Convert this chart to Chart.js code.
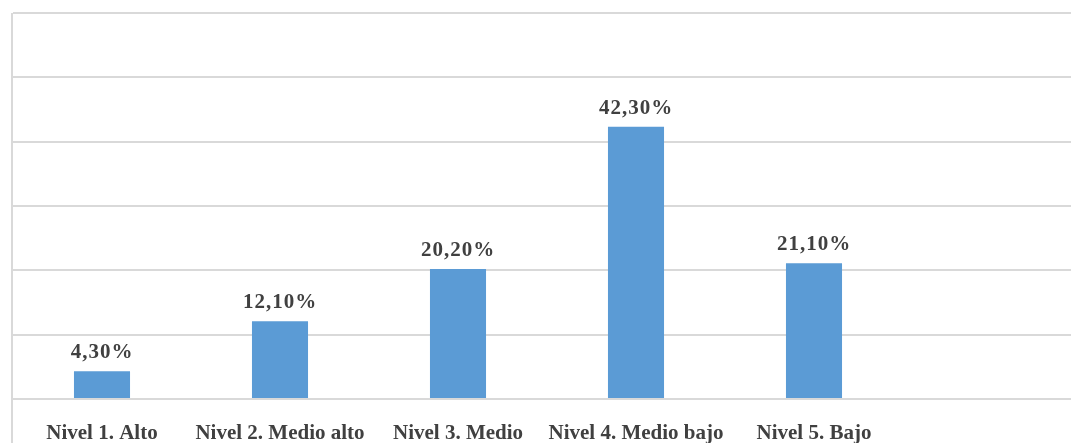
<!DOCTYPE html>
<html>
<head>
<meta charset="utf-8">
<script src="https://cdn.jsdelivr.net/npm/chart.js@4.4.0/dist/chart.umd.min.js"></script>
<style>
  html, body { margin: 0; padding: 0; background: #fff; overflow: hidden; width: 1071px; height: 443px; }
  #frame { position: absolute; left: 11px; top: 13px; width: 2px; height: 430px; background: #d9d9d9; }
  #wrap { position: absolute; left: 13px; top: 0; width: 1068px; height: 443px; }
</style>
</head>
<body>
<div id="frame"></div>
<div id="wrap"><canvas id="nivelChart"></canvas></div>
<script>
// categories (the original chart keeps an empty sixth slot)
var categories = ['Nivel 1. Alto', 'Nivel 2. Medio alto', 'Nivel 3. Medio', 'Nivel 4. Medio bajo', 'Nivel 5. Bajo', ''];
var percentages = [4.3, 12.1, 20.2, 42.3, 21.1, null];
var yTicks = [0, 10, 20, 30, 40, 50, 60];

var textColor = '#404040';
var serif = "'Liberation Serif', 'Times New Roman', serif";

// draws the "42,30%" labels above each bar
var valueLabels = {
    id: 'valueLabels',
    afterDatasetsDraw: function(chart) {
        var ctx = chart.ctx;
        var meta = chart.getDatasetMeta(0);
        ctx.save();
        ctx.font = 'bold 21px ' + serif;
        ctx.fillStyle = textColor;
        ctx.textAlign = 'center';
        ctx.textBaseline = 'alphabetic';
        if ('letterSpacing' in ctx) ctx.letterSpacing = '1px';
        meta.data.forEach(function(bar, i) {
            var v = percentages[i];
            if (v === null) return;
            var txt = v.toFixed(2).replace('.', ',') + '%';
            ctx.fillText(txt, bar.x, bar.y - 13);
        });
        ctx.restore();
    }
};

document.addEventListener('DOMContentLoaded', function() {
    var ctx = document.getElementById('nivelChart').getContext('2d');
    new Chart(ctx, {
        type: 'bar',
        data: {
            labels: categories,
            datasets: [{
                data: percentages,
                backgroundColor: '#5B9BD5',
                barPercentage: 0.315,
                categoryPercentage: 1
            }]
        },
        options: {
            responsive: true,
            maintainAspectRatio: false,
            animation: false,
            layout: { padding: { top: 13, left: 0, right: 0, bottom: 0 } },
            plugins: { legend: { display: false }, tooltip: { enabled: false } },
            scales: {
                x: {
                    grid: { display: false },
                    border: { display: false },
                    ticks: {
                        color: textColor,
                        font: { family: serif, size: 21, weight: 'bold' },
                        padding: 14,
                        maxRotation: 0,
                        autoSkip: false
                    },
                    afterFit: function(scale) { scale.height = 44; }
                },
                y: {
                    min: 0,
                    max: 60,
                    afterBuildTicks: function(scale) {
                        scale.ticks = yTicks.map(function(v) { return { value: v }; });
                    },
                    ticks: { display: false },
                    grid: { color: '#d9d9d9', lineWidth: 2, drawTicks: false },
                    border: { display: false },
                    afterFit: function(scale) { scale.width = 0; }
                }
            }
        },
        plugins: [valueLabels]
    });
});
</script>
</body>
</html>
